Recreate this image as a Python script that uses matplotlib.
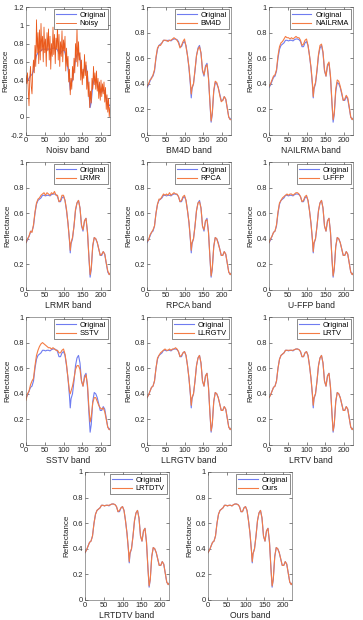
import matplotlib.pyplot as plt

plt.rcParams['font.family'] = ['Liberation Sans', 'DejaVu Sans']

# band positions for the sampled spectra
bands = [0, 4, 8, 12, 16, 20, 24, 28, 32, 36, 40, 44, 48, 52, 56, 60, 64, 68, 72, 76,
         80, 84, 88, 92, 96, 100, 104, 108, 112, 116, 118, 120, 124, 128, 132, 136, 140,
         144, 148, 152, 156, 160, 164, 168, 171, 174, 178, 182, 186, 190, 194, 198, 202,
         206, 210, 214, 218, 222, 224]

original = [0.37, 0.39, 0.42, 0.45, 0.46, 0.50, 0.60, 0.67, 0.70, 0.71, 0.72, 0.74, 0.74,
            0.735, 0.74, 0.74, 0.735, 0.745, 0.75, 0.75, 0.745, 0.73, 0.69, 0.69, 0.72, 0.73,
            0.70, 0.62, 0.52, 0.38, 0.29, 0.36, 0.40, 0.50, 0.62, 0.68, 0.70, 0.64, 0.50,
            0.46, 0.54, 0.56, 0.45, 0.24, 0.10, 0.16, 0.34, 0.41, 0.40, 0.37, 0.32, 0.27,
            0.27, 0.30, 0.28, 0.21, 0.14, 0.12, 0.13]

noisy_bands = list(range(0, 225, 2))
noisy = [0.45, 0.36, 0.48, 0.30, 0.12, 0.42, 0.55, 0.33, 0.25, 0.50, 0.62, 0.48, 0.78, 0.55,
         1.06, 0.70, 0.92, 0.58, 0.95, 0.62, 1.02, 0.72, 0.88, 0.60, 0.98, 0.70, 0.85, 0.55,
         0.92, 0.72, 0.96, 0.62, 0.88, 0.52, 0.80, 0.66, 0.98, 0.68, 0.90, 0.58, 0.86, 0.74,
         1.00, 0.62, 0.90, 0.55, 0.82, 0.66, 0.94, 0.60, 0.84, 0.72, 0.88, 0.50, 0.75, 0.55,
         0.66, 0.38, 0.52, 0.24, 0.42, 0.30, 0.55, 0.40, 0.64, 0.48, 0.80, 0.60, 0.98, 0.55,
         0.82, 0.62, 0.70, 0.40, 0.62, 0.35, 0.52, 0.42, 0.68, 0.45, 0.60, 0.30, 0.50, 0.22,
         0.38, 0.10, 0.28, 0.15, 0.42, 0.30, 0.55, 0.35, 0.48, 0.30, 0.50, 0.28, 0.42, 0.20,
         0.38, 0.18, 0.40, 0.22, 0.36, 0.25, 0.38, 0.16, 0.32, 0.08, 0.24, 0.05, 0.20, 0.00,
         0.10]

bm4d = [0.38, 0.40, 0.43, 0.44, 0.47, 0.51, 0.61, 0.68, 0.70, 0.70, 0.72, 0.74, 0.74, 0.74,
        0.73, 0.74, 0.74, 0.75, 0.76, 0.75, 0.74, 0.72, 0.68, 0.70, 0.73, 0.75, 0.69, 0.62,
        0.53, 0.40, 0.32, 0.37, 0.40, 0.51, 0.62, 0.67, 0.69, 0.64, 0.51, 0.47, 0.53, 0.55,
        0.44, 0.25, 0.11, 0.17, 0.35, 0.42, 0.41, 0.37, 0.31, 0.26, 0.27, 0.30, 0.28, 0.21,
        0.14, 0.12, 0.12]
nailrma = [0.38, 0.40, 0.43, 0.46, 0.47, 0.51, 0.62, 0.69, 0.72, 0.73, 0.75, 0.77, 0.76,
           0.76, 0.75, 0.76, 0.75, 0.76, 0.77, 0.76, 0.76, 0.74, 0.70, 0.71, 0.74, 0.75, 0.70,
           0.62, 0.53, 0.40, 0.30, 0.37, 0.41, 0.51, 0.63, 0.70, 0.71, 0.65, 0.51, 0.46, 0.55,
           0.57, 0.46, 0.25, 0.12, 0.17, 0.36, 0.43, 0.42, 0.38, 0.33, 0.27, 0.28, 0.31, 0.29,
           0.22, 0.14, 0.12, 0.13]
lrmr = [0.37, 0.40, 0.42, 0.46, 0.45, 0.51, 0.61, 0.68, 0.71, 0.72, 0.74, 0.75, 0.76, 0.74,
        0.76, 0.75, 0.74, 0.76, 0.75, 0.77, 0.74, 0.74, 0.69, 0.70, 0.74, 0.74, 0.70, 0.63,
        0.52, 0.39, 0.31, 0.37, 0.41, 0.50, 0.63, 0.68, 0.70, 0.64, 0.51, 0.47, 0.54, 0.56,
        0.45, 0.25, 0.12, 0.17, 0.35, 0.41, 0.40, 0.37, 0.32, 0.27, 0.28, 0.30, 0.28, 0.21,
        0.15, 0.12, 0.13]
rpca = [0.38, 0.39, 0.43, 0.45, 0.47, 0.50, 0.60, 0.67, 0.71, 0.71, 0.73, 0.75, 0.74, 0.75,
        0.74, 0.76, 0.74, 0.75, 0.76, 0.75, 0.75, 0.73, 0.69, 0.70, 0.73, 0.74, 0.70, 0.62,
        0.53, 0.39, 0.31, 0.37, 0.40, 0.50, 0.62, 0.68, 0.69, 0.64, 0.50, 0.47, 0.54, 0.55,
        0.45, 0.25, 0.11, 0.17, 0.34, 0.41, 0.40, 0.36, 0.32, 0.27, 0.27, 0.30, 0.28, 0.21,
        0.14, 0.12, 0.13]
uffp = [0.37, 0.40, 0.42, 0.45, 0.46, 0.51, 0.61, 0.68, 0.70, 0.72, 0.73, 0.74, 0.75, 0.74,
        0.75, 0.75, 0.74, 0.75, 0.76, 0.76, 0.75, 0.73, 0.69, 0.70, 0.73, 0.74, 0.70, 0.62,
        0.52, 0.39, 0.30, 0.37, 0.40, 0.50, 0.62, 0.68, 0.70, 0.64, 0.50, 0.46, 0.54, 0.56,
        0.45, 0.24, 0.11, 0.17, 0.34, 0.41, 0.40, 0.37, 0.32, 0.27, 0.27, 0.30, 0.28, 0.21,
        0.14, 0.12, 0.13]
sstv = [0.35, 0.40, 0.42, 0.47, 0.50, 0.52, 0.62, 0.70, 0.74, 0.77, 0.79, 0.80, 0.79, 0.78,
        0.77, 0.76, 0.76, 0.75, 0.76, 0.75, 0.74, 0.74, 0.72, 0.72, 0.74, 0.75, 0.71, 0.63,
        0.52, 0.42, 0.40, 0.42, 0.46, 0.52, 0.59, 0.62, 0.62, 0.59, 0.50, 0.46, 0.52, 0.55,
        0.47, 0.28, 0.18, 0.22, 0.33, 0.37, 0.37, 0.34, 0.31, 0.29, 0.28, 0.29, 0.26, 0.20,
        0.14, 0.12, 0.12]
llrgtv = [0.37, 0.39, 0.42, 0.45, 0.46, 0.50, 0.60, 0.68, 0.70, 0.72, 0.73, 0.74, 0.75,
          0.74, 0.74, 0.75, 0.74, 0.75, 0.75, 0.76, 0.75, 0.73, 0.69, 0.70, 0.72, 0.73, 0.70,
          0.62, 0.52, 0.39, 0.31, 0.37, 0.40, 0.50, 0.62, 0.68, 0.70, 0.64, 0.50, 0.46, 0.54,
          0.56, 0.45, 0.24, 0.11, 0.16, 0.34, 0.41, 0.40, 0.37, 0.32, 0.27, 0.27, 0.30, 0.28,
          0.21, 0.14, 0.12, 0.13]
lrtv = [0.37, 0.39, 0.42, 0.45, 0.46, 0.50, 0.60, 0.67, 0.70, 0.71, 0.72, 0.74, 0.74, 0.74,
        0.74, 0.74, 0.74, 0.745, 0.75, 0.75, 0.745, 0.73, 0.69, 0.69, 0.72, 0.73, 0.70, 0.62,
        0.52, 0.39, 0.31, 0.37, 0.40, 0.50, 0.62, 0.68, 0.70, 0.64, 0.50, 0.46, 0.54, 0.56,
        0.45, 0.24, 0.11, 0.16, 0.34, 0.41, 0.40, 0.37, 0.32, 0.27, 0.27, 0.30, 0.28, 0.21,
        0.14, 0.12, 0.13]
lrtdtv = [0.37, 0.39, 0.42, 0.45, 0.46, 0.50, 0.60, 0.67, 0.70, 0.71, 0.72, 0.74, 0.74,
          0.735, 0.74, 0.74, 0.74, 0.745, 0.75, 0.75, 0.745, 0.73, 0.69, 0.70, 0.72, 0.73,
          0.70, 0.62, 0.52, 0.39, 0.30, 0.37, 0.40, 0.50, 0.62, 0.68, 0.70, 0.64, 0.50, 0.46,
          0.54, 0.56, 0.45, 0.24, 0.11, 0.16, 0.34, 0.41, 0.40, 0.37, 0.32, 0.27, 0.27, 0.30,
          0.28, 0.21, 0.14, 0.12, 0.13]
ours = [0.37, 0.39, 0.42, 0.45, 0.46, 0.50, 0.60, 0.67, 0.70, 0.71, 0.72, 0.74, 0.74, 0.735,
        0.74, 0.74, 0.735, 0.745, 0.75, 0.75, 0.745, 0.73, 0.69, 0.69, 0.72, 0.73, 0.70, 0.62,
        0.52, 0.38, 0.30, 0.36, 0.40, 0.50, 0.62, 0.68, 0.70, 0.64, 0.50, 0.46, 0.54, 0.56,
        0.45, 0.24, 0.11, 0.16, 0.34, 0.41, 0.40, 0.37, 0.32, 0.27, 0.27, 0.30, 0.28, 0.21,
        0.14, 0.12, 0.13]

methods = ['Noisy', 'BM4D', 'NAILRMA', 'LRMR', 'RPCA', 'U-FFP', 'SSTV', 'LLRGTV', 'LRTV',
           'LRTDTV', 'Ours']
method_values = [noisy, bm4d, nailrma, lrmr, rpca, uffp, sstv, llrgtv, lrtv, lrtdtv, ours]

BLUE = '#6f7cf0'
ORANGE = '#f47c45'
NOISY_ORANGE = '#ea5a1c'
FS = 5.4

W, H = 363, 620
fig = plt.figure(figsize=(W / 100, H / 100), dpi=100)

row_tops = [7, 162, 317, 472]
col_lefts = [[26, 147, 269], [26, 147, 269], [26, 147, 269], [85, 208]]
ax_w, ax_h = 84, 128

k = 0
for r, top in enumerate(row_tops):
    for left in col_lefts[r]:
        name = methods[k]
        ax = fig.add_axes([left / W, 1 - (top + ax_h) / H, ax_w / W, ax_h / H])
        ax.plot(bands, original, color=BLUE, lw=0.8, label='Original')
        if name == 'Noisy':
            ax.plot(noisy_bands, method_values[k], color=NOISY_ORANGE, lw=0.6, label=name)
            ax.set_ylim(-0.2, 1.2)
            ax.set_yticks([-0.2, 0, 0.2, 0.4, 0.6, 0.8, 1, 1.2])
            ax.set_yticklabels(['-0.2', '0', '0.2', '0.4', '0.6', '0.8', '1', '1.2'])
            xlab = 'Noisv band'
        else:
            ax.plot(bands, method_values[k], color=ORANGE, lw=0.8, label=name)
            ax.set_ylim(0, 1)
            ax.set_yticks([0, 0.2, 0.4, 0.6, 0.8, 1])
            ax.set_yticklabels(['0', '0.2', '0.4', '0.6', '0.8', '1'])
            xlab = name + ' band'
        ax.set_xlim(0, 224)
        ax.set_xticks([0, 50, 100, 150, 200])
        ax.tick_params(direction='in', length=2, width=0.4, labelsize=FS, pad=1.5,
                       top=True, right=True, colors='#262626')
        for s in ax.spines.values():
            s.set_linewidth(0.4)
            s.set_color('#555555')
        ax.set_xlabel(xlab, fontsize=FS + 0.8, labelpad=1.5, color='#262626')
        ax.set_ylabel('Reflectance', fontsize=FS + 0.4, labelpad=1.5, color='#262626')
        leg = ax.legend(loc='upper right', fontsize=FS, handlelength=2.6, handletextpad=0.5,
                        borderpad=0.3, labelspacing=0.15, borderaxespad=0.3, fancybox=False,
                        edgecolor='#333333', framealpha=1)
        leg.get_frame().set_linewidth(0.4)
        k += 1

fig.savefig('out.png', dpi=100)
